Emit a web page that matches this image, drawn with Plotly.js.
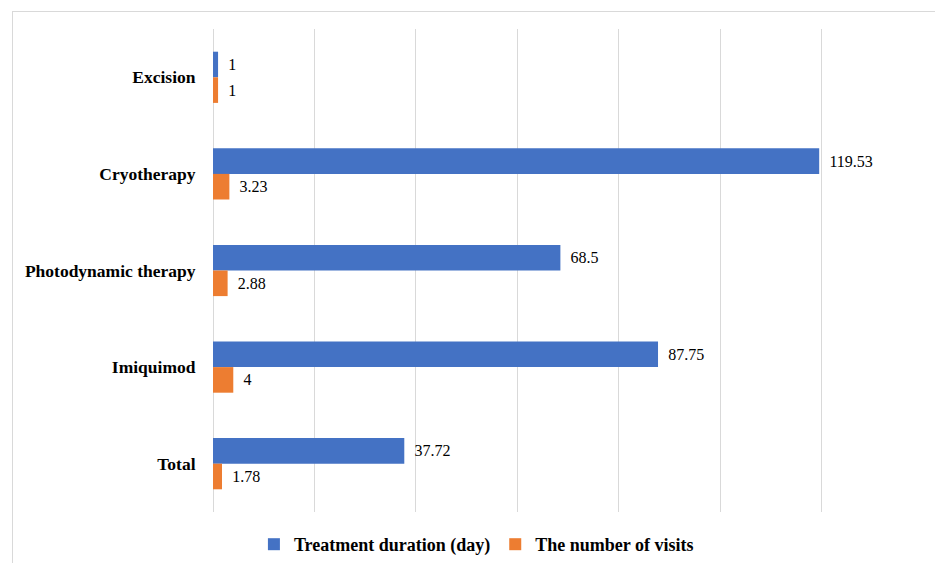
<!DOCTYPE html>
<html>
<head>
<meta charset="utf-8">
<script src="https://cdn.plot.ly/plotly-3.0.1.min.js"></script>
<style>
  html, body { margin: 0; padding: 0; background: #fff; }
  #wrap { position: relative; width: 935px; height: 563px; overflow: hidden; }
  #chart { position: absolute; left: 0; top: 0; width: 935px; height: 563px; }
  #frame { position: absolute; left: 12px; top: 11px; width: 940px; height: 600px;
           border: 1px solid #d9d9d9; pointer-events: none; box-sizing: border-box; }
</style>
</head>
<body>
<div id="wrap">
  <div id="chart"></div>
  <div id="frame"></div>
</div>
<script>
const categories = ["Excision", "Cryotherapy", "Photodynamic therapy", "Imiquimod", "Total"];
const durationDays = [1, 119.53, 68.5, 87.75, 37.72];
const numberOfVisits = [1, 3.23, 2.88, 4, 1.78];
const seriesNames = ["Treatment duration (day)", "The number of visits"];

const SERIF = "\"Liberation Serif\", \"Times New Roman\", Times, serif";
const labelFont = { family: SERIF, size: 16, color: "#000" };

const traces = [
  {
    type: "bar", orientation: "h", name: seriesNames[0],
    y: categories, x: durationDays,
    marker: { color: "#4472C4" },
    text: durationDays.map(v => "\u00a0\u2009" + v),
    textposition: "outside", textfont: labelFont, cliponaxis: false,
    hoverinfo: "x+y"
  },
  {
    type: "bar", orientation: "h", name: seriesNames[1],
    y: categories, x: numberOfVisits,
    marker: { color: "#ED7D31" },
    text: numberOfVisits.map(v => "\u00a0\u2009" + v),
    textposition: "outside", textfont: labelFont, cliponaxis: false,
    hoverinfo: "x+y"
  }
];

const layout = {
  width: 935, height: 563,
  margin: { l: 213, r: 12, t: 29, b: 0, pad: 0 },
  paper_bgcolor: "#fff", plot_bgcolor: "#fff",
  font: { family: SERIF },
  barmode: "group", bargap: 0.47, bargroupgap: 0,
  showlegend: true,
  legend: {
    orientation: "h", x: 0.371, xanchor: "center", y: 0.034, yanchor: "middle",
    font: { family: SERIF, size: 18, color: "#000", weight: "bold" },
    traceorder: "normal", tracegroupgap: 0
  },
  xaxis: {
    range: [0, 140], dtick: 20, showticklabels: false, ticks: "",
    showgrid: true, gridcolor: "#d9d9d9", gridwidth: 1,
    zeroline: true, zerolinecolor: "#d9d9d9", zerolinewidth: 1,
    showline: false, fixedrange: true
  },
  yaxis: {
    type: "category", autorange: "reversed", domain: [0.0955, 1],
    tickfont: { family: SERIF, size: 17.5, color: "#000", weight: "bold" },
    ticks: "outside", ticklen: 13, tickcolor: "rgba(0,0,0,0)",
    showgrid: false, zeroline: false, showline: false, fixedrange: true
  },
  uniformtext: { mode: false }
};

Plotly.newPlot("chart", traces, layout, { displayModeBar: false, staticPlot: true });
</script>
</body>
</html>
